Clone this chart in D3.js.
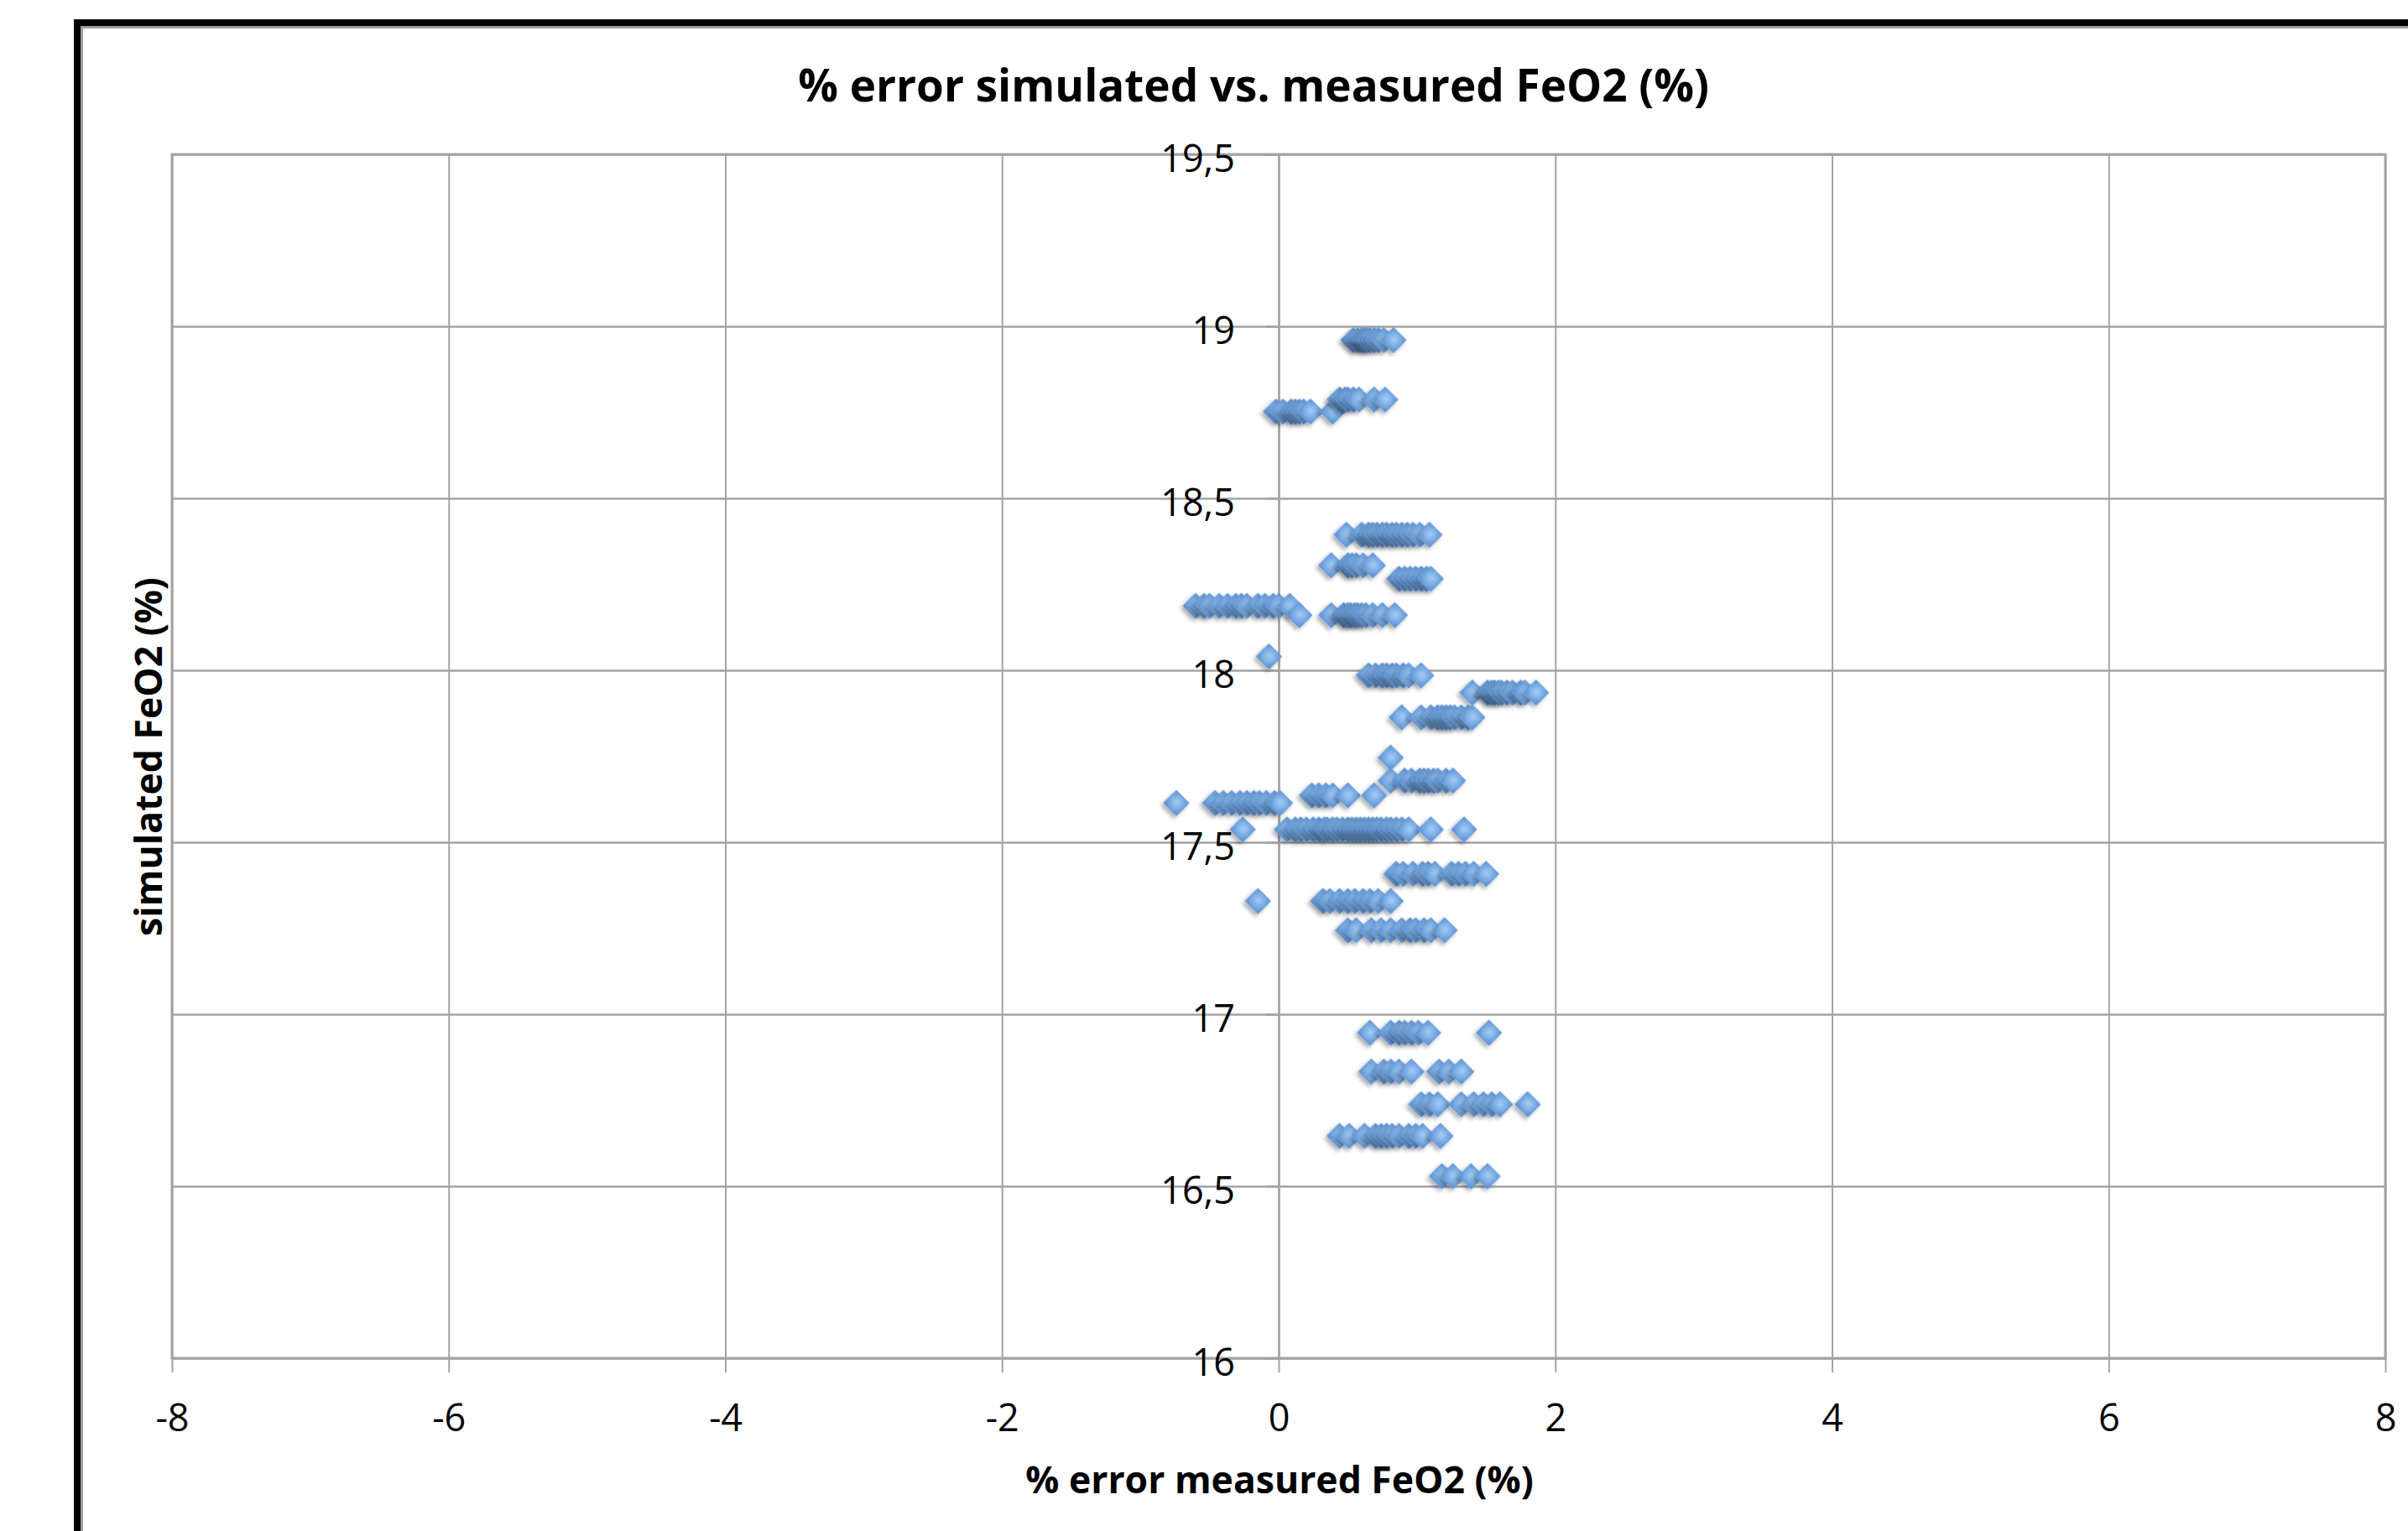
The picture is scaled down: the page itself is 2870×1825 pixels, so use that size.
<!DOCTYPE html>
<html>
<head>
<meta charset="utf-8">
<script src="https://cdn.jsdelivr.net/npm/d3@7/dist/d3.min.js"></script>
<style>
  body { margin: 0; background: #fff; }
  text { font-family: "Open Sans", "Noto Sans", sans-serif; fill: #000; }
</style>
</head>
<body>
<div id="chart"></div>
<script>
// values, one row per simulated FeO2 level
const simulatedLevels = [18.96, 18.752, 18.787, 18.394, 18.305, 18.266, 18.187, 18.16, 18.04,
    17.985, 17.935, 17.863, 17.746, 17.679, 17.614, 17.636, 17.537, 17.408, 17.329, 17.244,
    16.946, 16.833, 16.738, 16.646, 16.529]

const errorRows = [
    [0.54, 0.57, 0.60, 0.62, 0.64, 0.66, 0.69, 0.72, 0.76, 0.83],
    [-0.02, 0.03, 0.09, 0.12, 0.15, 0.18, 0.23, 0.39],
    [0.44, 0.48, 0.50, 0.54, 0.58, 0.69, 0.77],
    [0.49, 0.60, 0.65, 0.68, 0.71, 0.75, 0.78, 0.82, 0.85, 0.89, 0.93, 0.97, 1.02, 1.09],
    [0.38, 0.50, 0.53, 0.56, 0.61, 0.68],
    [0.87, 0.91, 0.95, 0.99, 1.03, 1.07, 1.10],
    [-0.60, -0.54, -0.50, -0.43, -0.37, -0.31, -0.27, -0.23, -0.15, -0.10, -0.04, 0.00, 0.08],
    [0.15, 0.38, 0.47, 0.50, 0.52, 0.55, 0.57, 0.60, 0.63, 0.68, 0.75, 0.84],
    [-0.07],
    [0.65, 0.70, 0.75, 0.78, 0.82, 0.85, 0.90, 0.94, 1.03],
    [1.40, 1.51, 1.54, 1.56, 1.59, 1.61, 1.65, 1.69, 1.75, 1.78, 1.86],
    [0.89, 1.03, 1.10, 1.15, 1.18, 1.21, 1.24, 1.27, 1.32, 1.37, 1.40],
    [0.81],
    [0.81, 0.91, 0.96, 1.02, 1.05, 1.08, 1.12, 1.15, 1.21, 1.26],
    [-0.74, -0.46, -0.40, -0.34, -0.28, -0.23, -0.18, -0.14, -0.09, -0.03, 0.01],
    [0.24, 0.29, 0.34, 0.39, 0.50, 0.69],
    [-0.26, 0.06, 0.12, 0.16, 0.20, 0.25, 0.29, 0.33, 0.35, 0.39, 0.42, 0.46, 0.50, 0.53, 0.56,
        0.59, 0.62, 0.65, 0.68, 0.71, 0.74, 0.78, 0.81, 0.85, 0.89, 0.94, 1.10, 1.34],
    [0.85, 0.90, 0.97, 1.04, 1.08, 1.13, 1.25, 1.30, 1.35, 1.41, 1.50],
    [-0.15, 0.32, 0.37, 0.44, 0.50, 0.55, 0.61, 0.66, 0.72, 0.81],
    [0.50, 0.56, 0.67, 0.74, 0.81, 0.89, 0.95, 0.99, 1.05, 1.10, 1.20],
    [0.66, 0.81, 0.87, 0.91, 0.96, 1.01, 1.08, 1.52],
    [0.67, 0.76, 0.81, 0.87, 0.96, 1.16, 1.23, 1.32],
    [1.03, 1.09, 1.15, 1.32, 1.41, 1.48, 1.54, 1.60, 1.80],
    [0.44, 0.51, 0.62, 0.70, 0.74, 0.78, 0.82, 0.87, 0.94, 0.99, 1.04, 1.17],
    [1.18, 1.26, 1.39, 1.51]
]

const xTicks = [-8, -6, -4, -2, 0, 2, 4, 6, 8]
const yTicks = [16, 16.5, 17, 17.5, 18, 18.5, 19, 19.5]

const chartTitle = "% error simulated vs. measured FeO2 (%)"
const xTitle = "% error measured FeO2 (%)"
const yTitle = "simulated FeO2 (%)"

// flatten rows into points
let points = []
simulatedLevels.forEach((lvl, i) => {
    errorRows[i].forEach(e => points.push({ x: e, y: lvl }))
})

const width = 2870, height = 1825
const plot = { left: 205, right: 2843, top: 184, bottom: 1619 }

const svg = d3.select("#chart")
    .append("svg")
    .attr("width", width)
    .attr("height", height)

const defs = svg.append("defs")
const grad = defs.append("radialGradient")
    .attr("id", "markerFill")
    .attr("cx", "50%").attr("cy", "45%").attr("r", "60%")
grad.append("stop").attr("offset", "0%").attr("stop-color", "#a4ccf4")
grad.append("stop").attr("offset", "70%").attr("stop-color", "#75a9e2")
grad.append("stop").attr("offset", "100%").attr("stop-color", "#6396d4")

const shadow = defs.append("filter")
    .attr("id", "shadow")
    .attr("x", "-50%").attr("y", "-50%").attr("width", "200%").attr("height", "200%")
shadow.append("feDropShadow")
    .attr("dx", 0).attr("dy", 4)
    .attr("stdDeviation", 2.5)
    .attr("flood-color", "#000")
    .attr("flood-opacity", 0.33)

// outer frame (thick black at top and left)
svg.append("rect").attr("x", 88).attr("y", 23).attr("width", width - 88).attr("height", 8).attr("fill", "#000")
svg.append("rect").attr("x", 88).attr("y", 23).attr("width", 8).attr("height", height - 23).attr("fill", "#000")
svg.append("rect").attr("x", 96).attr("y", 31).attr("width", width - 96).attr("height", 3).attr("fill", "#a0a0a0")
svg.append("rect").attr("x", 96).attr("y", 31).attr("width", 3).attr("height", height - 31).attr("fill", "#a0a0a0")

const x = d3.scaleLinear().domain([-8, 8]).range([plot.left, plot.right])
const y = d3.scaleLinear().domain([16, 19.5]).range([plot.bottom, plot.top])

const gridColor = "#a3a3a3"

// vertical grid + bottom ticks
const xAxisG = svg.append("g")
    .attr("transform", `translate(0, ${plot.bottom})`)
    .call(d3.axisBottom(x).tickValues(xTicks).tickSize(17).tickFormat(d => String(d)))
xAxisG.select(".domain").remove()
xAxisG.selectAll(".tick line")
    .attr("y1", -(plot.bottom - plot.top))
    .attr("stroke", gridColor)
    .attr("stroke-width", 2)
xAxisG.selectAll(".tick text")
    .attr("y", 87)
    .attr("dy", 0)
    .style("font-size", "45px")
    .style("font-family", "'Open Sans', sans-serif")
    .attr("fill", "#000")

// horizontal grid
const yGrid = svg.append("g")
    .attr("transform", `translate(${plot.left}, 0)`)
    .call(d3.axisLeft(y).tickValues(yTicks).tickSize(-(plot.right - plot.left)).tickFormat(""))
yGrid.select(".domain").remove()
yGrid.selectAll(".tick line")
    .attr("stroke", gridColor)
    .attr("stroke-width", 2.5)

// plot border
svg.append("rect")
    .attr("x", plot.left).attr("y", plot.top)
    .attr("width", plot.right - plot.left).attr("height", plot.bottom - plot.top)
    .attr("fill", "none")
    .attr("stroke", gridColor)
    .attr("stroke-width", 3)

// y axis crossing at x = 0
const yAxisG = svg.append("g")
    .attr("transform", `translate(${x(0)}, 0)`)
    .call(d3.axisLeft(y).tickValues(yTicks).tickSize(15).tickPadding(37)
        .tickFormat(d => String(d).replace(".", ",")))
yAxisG.select(".domain")
    .attr("stroke", gridColor)
    .attr("stroke-width", 2.5)
yAxisG.selectAll(".tick line")
    .attr("stroke", gridColor)
    .attr("stroke-width", 2.5)
yAxisG.selectAll(".tick text")
    .attr("dy", 20)
    .style("font-size", "45px")
    .style("font-family", "'Open Sans', sans-serif")
    .attr("fill", "#000")

// markers
const diamond = d3.symbol().type(d3.symbolSquare).size(460)
svg.append("g")
    .selectAll("path")
    .data(points)
    .enter()
    .append("path")
    .attr("d", diamond)
    .attr("transform", d => `translate(${x(d.x)}, ${y(d.y)}) rotate(45)`)
    .attr("fill", "url(#markerFill)")
    .attr("stroke", "#6a9ad6")
    .attr("stroke-width", 1)
    .attr("filter", "url(#shadow)")

// titles
svg.append("text")
    .attr("x", 1494)
    .attr("y", 121)
    .attr("text-anchor", "middle")
    .style("font-size", "53px")
    .style("font-weight", "bold")
    .text(chartTitle)

svg.append("text")
    .attr("x", 1525)
    .attr("y", 1780)
    .attr("text-anchor", "middle")
    .style("font-size", "44.5px")
    .style("font-weight", "bold")
    .text(xTitle)

svg.append("text")
    .attr("transform", "translate(193, 902) rotate(-90)")
    .attr("text-anchor", "middle")
    .style("font-size", "44.5px")
    .style("font-weight", "bold")
    .text(yTitle)
</script>
</body>
</html>
